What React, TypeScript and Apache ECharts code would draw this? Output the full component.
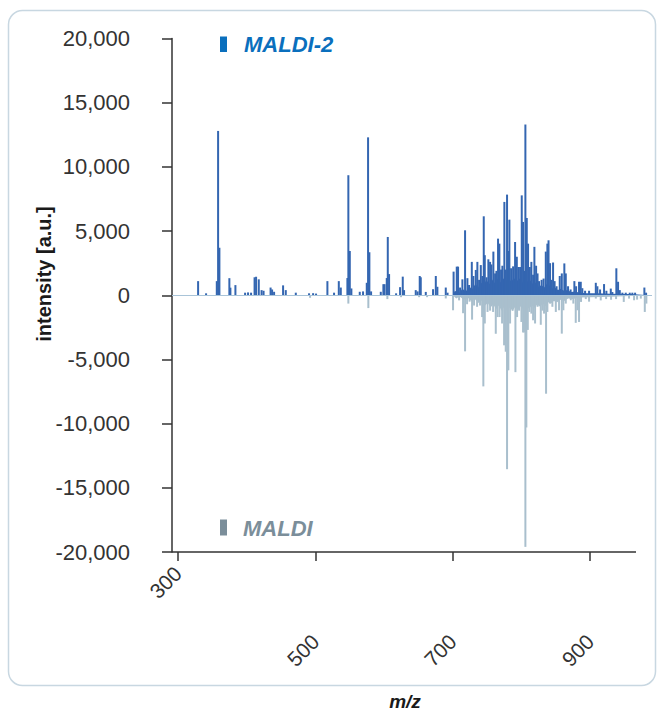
import React, { useEffect, useRef } from 'react';
import * as echarts from 'echarts';

// ---- data ----
const X_MIN = 291.3;
const X_MAX = 990;
const X_LABELS_NEAR = [300];
const X_LABELS_FAR = [500, 700, 900];
const X_TICKS = [300, 500, 700, 900];
const Y_MIN = -20000;
const Y_MAX = 20000;
const Y_STEP = 5000;

const SERIES_NAMES = ['MALDI-2', 'MALDI'];

// MALDI-2 peaks: [m/z, intensity]
const maldi2Peaks: [number, number][] = [
  [329.3, 1100], [340.9, 150], [356.5, 1100], [358.4, 12800], [360.3, 3700],
  [374.8, 1330], [376.3, 590], [383.6, 790], [397.7, 200], [402, 220], [406.4, 200],
  [411.5, 1400], [413.7, 1450], [417.6, 1240], [421.7, 400], [424.6, 350],
  [434.8, 600], [437, 450], [439.9, 270], [453, 770], [456.9, 400], [471.5, 200],
  [490.8, 150], [496.7, 160], [501, 130], [517.5, 1100], [527.2, 200],
  [534.1, 1100], [537, 600], [546.6, 1340], [548, 9350], [550.1, 3450], [552.4, 530],
  [564.6, 270], [569.4, 300], [574.8, 970], [576.7, 12300], [578.6, 3350], [581.1, 300],
  [595.2, 270], [599, 860], [600.7, 860], [603.9, 1340], [605.4, 4540], [607.3, 1650],
  [617.5, 150], [623.3, 630], [627.2, 1450], [629.1, 400], [646.1, 400], [648.8, 300],
  [651.9, 1500], [653.4, 1400], [660.7, 260], [671.3, 470], [675.3, 1500], [677.6, 660],
  [689.8, 600], [692.4, 200], [701.2, 1840], [705.8, 2230], [707.7, 2230], [710.6, 600],
  [714, 1240], [717.9, 5060], [721.3, 1330], [723.7, 800], [727.7, 2600], [730, 1500],
  [733.5, 1970], [735.8, 2600], [738.3, 1200], [740.8, 2350], [743.1, 1500],
  [745.1, 6150], [746.6, 3120], [749.2, 1400], [751.8, 2800], [754.3, 2600], [756.2, 2400],
  [759.1, 3400], [761.6, 1700], [763.5, 1900], [765.9, 4410], [767.8, 4020], [770.3, 2000],
  [772.2, 2300], [775.1, 7270], [777.2, 2000], [779.0, 7840], [780.9, 3450], [782.4, 5890],
  [784.9, 2100], [787.8, 2250], [790.7, 4150], [793.2, 3000], [795.5, 2200], [798, 2200],
  [800.4, 7780], [802.3, 5710], [804.2, 1900], [805.7, 13300], [807.7, 6020], [809.6, 4020],
  [812.1, 2200], [814.4, 2600], [816.9, 1600], [818.8, 3770], [821.3, 2300], [823.4, 1700],
  [825.6, 1100], [829.3, 1200], [832.2, 1300], [835.4, 3400], [837.7, 4020], [839.4, 4280],
  [841.6, 2500], [843.8, 1200], [846, 2550], [848.2, 1100], [851.1, 700], [855.7, 1500],
  [858.7, 1700], [862.4, 2480], [864.5, 1700], [867.8, 700], [871.5, 450], [877, 1100],
  [879.5, 700], [883.8, 1050], [886.3, 1050], [888.6, 550], [892.6, 350], [898.4, 350],
  [908.2, 970], [910.5, 700], [914.4, 450], [920.2, 870], [923.6, 350], [930, 520],
  [932.3, 250], [938.1, 2100], [940.6, 1050], [943.1, 400], [946.9, 200], [951.8, 200],
  [957.6, 200], [961.4, 200], [965.4, 200], [978.9, 600], [981.4, 200],
];

// MALDI-2 dense cluster envelope (jagged fill under the sticks): [m/z, intensity]
const maldi2Envelope: [number, number][] = [
  [700, 0], [703, 350], [709, 150], [714, 500], [719, 300], [724, 700], [728, 450],
  [733, 900], [737, 600], [741, 1000], [745, 800], [749, 1200], [753, 850], [757, 1250],
  [761, 950], [765, 1300], [769, 1000], [773, 1350], [777, 1100], [781, 1400], [785, 1050],
  [789, 1350], [793, 1100], [797, 1300], [801, 1000], [805, 1300], [809, 1050], [813, 1150],
  [817, 850], [821, 1000], [825, 650], [829, 800], [833, 600], [837, 900], [841, 750],
  [845, 550], [849, 600], [853, 400], [857, 500], [862, 350], [867, 400], [872, 250],
  [878, 300], [885, 200], [895, 150], [910, 150], [930, 120], [960, 100], [985, 0],
];

// MALDI peaks (negative): [m/z, intensity]
const maldiPeaks: [number, number][] = [
  [492.3, -200], [548, -650], [577.1, -1000], [604.8, -300], [624.7, -150], [651, -150],
  [662.6, -150], [689.8, -250], [700.4, -1170], [709.2, -400], [715, -1400], [717.9, -4370],
  [720.8, -700], [724.5, -500], [728.1, -1900], [731, -800], [735.4, -900], [739.7, -800],
  [742.7, -1700], [744.5, -7100], [746.6, -2200], [750.6, -1300], [754.3, -1200],
  [758.7, -1300], [762.6, -3000], [765.2, -1700], [768.1, -1700], [771.8, -2200],
  [774.7, -3900], [777.1, -4400], [779, -13550], [780.9, -5850], [783.4, -2200],
  [787.1, -1200], [791.2, -5990], [793.6, -1700], [796.5, -1200], [799.9, -2080],
  [802.3, -2900], [804.2, -2900], [805.7, -19600], [807.1, -10300], [809.2, -2700],
  [811.5, -1300], [814.4, -1430], [816.9, -1950], [819.8, -2200], [823.4, -900],
  [825.6, -800], [828.1, -2300], [830.4, -1200], [832.9, -1430], [835.8, -7670],
  [837.7, -1300], [841.6, -650], [845, -900], [850, -1300], [854.7, -1170], [858.7, -2990],
  [861, -1170], [864.5, -650], [871.8, -390], [875.5, -650], [879, -2150], [881.4, -1170],
  [883.8, -2080], [886.7, -520], [893.6, -300], [898.4, -500], [908.2, -260], [915.4, -400],
  [923.2, -300], [930.4, -350], [937.7, -300], [948.9, -520], [956.6, -260], [963.9, -390],
  [968.3, -340], [973.7, -260], [979.5, -1300], [981.8, -650],
];

// MALDI dense cluster envelope (jagged): [m/z, intensity]
const maldiEnvelope: [number, number][] = [
  [700, 0], [705, -250], [710, -100], [716, -350], [722, -200], [727, -450], [732, -300],
  [737, -600], [742, -400], [747, -800], [751, -600], [755, -950], [759, -700], [763, -1100],
  [767, -800], [771, -1200], [775, -900], [779, -1250], [783, -950], [787, -1200],
  [791, -900], [795, -1150], [799, -850], [803, -1150], [807, -850], [811, -1050],
  [815, -800], [819, -1000], [823, -700], [827, -900], [831, -650], [835, -850], [839, -550],
  [843, -650], [847, -450], [852, -550], [857, -350], [862, -450], [868, -250], [875, -300],
  [885, -180], [900, -150], [930, -120], [985, 0],
];

const COLOR_M2 = '#3466b1';
const COLOR_M2_TEXT = '#0a6fbd';
const COLOR_M1 = '#a9bfcd';
const COLOR_M1_TEXT = '#7b8e9a';
const AXIS_COLOR = '#333333';
const FONT = '"Liberation Sans", Arial, Helvetica, sans-serif';

export default function App() {
  const ref = useRef<HTMLDivElement>(null);

  useEffect(() => {
    document.body.style.margin = '0';
    if (!ref.current) return;
    const chart = echarts.init(ref.current, undefined, { renderer: 'svg' });

    const gridLeft = 172;
    const gridTop = 38.5;
    const gridRight = 652;
    const gridBottom = 552;

    const option: any = {
      animation: false,
      backgroundColor: '#ffffff',
      grid: {
        left: gridLeft,
        top: gridTop,
        width: gridRight - gridLeft,
        height: gridBottom - gridTop,
        containLabel: false,
      },
      xAxis: [
        {
          type: 'value',
          min: X_MIN,
          max: X_MAX,
          position: 'bottom',
          axisLine: { show: false, onZero: false },
          axisTick: {
            show: true,
            customValues: X_TICKS,
            length: 9,
            lineStyle: { color: AXIS_COLOR, width: 1.5 },
          },
          axisLabel: {
            customValues: X_LABELS_FAR,
            rotate: 45,
            margin: 86,
            fontSize: 21,
            fontFamily: FONT,
            color: AXIS_COLOR,
          },
          splitLine: { show: false },
        },
        {
          type: 'value',
          min: X_MIN,
          max: X_MAX,
          position: 'bottom',
          axisLine: { show: false, onZero: false },
          axisTick: { show: false },
          axisLabel: {
            customValues: X_LABELS_NEAR,
            rotate: 45,
            margin: 18,
            fontSize: 21,
            fontFamily: FONT,
            color: AXIS_COLOR,
          },
          splitLine: { show: false },
        },
      ],
      yAxis: {
        type: 'value',
        min: Y_MIN,
        max: Y_MAX,
        interval: Y_STEP,
        axisLine: { show: true, onZero: false, lineStyle: { color: AXIS_COLOR, width: 1.5 } },
        axisTick: { show: true, length: 10, lineStyle: { color: AXIS_COLOR, width: 1.5 } },
        axisLabel: {
          margin: 42,
          fontSize: 22,
          fontFamily: FONT,
          color: AXIS_COLOR,
          formatter: (v: number) => v.toLocaleString('en-US'),
        },
        splitLine: { show: false },
      },
      series: [
        {
          name: SERIES_NAMES[1] + ' envelope',
          type: 'line',
          data: maldiEnvelope,
          showSymbol: false,
          symbol: 'none',
          lineStyle: { width: 0 },
          areaStyle: { color: COLOR_M1, opacity: 1 },
          z: 1,
        },
        {
          name: SERIES_NAMES[0] + ' envelope',
          type: 'line',
          data: maldi2Envelope,
          showSymbol: false,
          symbol: 'none',
          lineStyle: { width: 0 },
          areaStyle: { color: COLOR_M2, opacity: 1 },
          z: 1,
        },
        {
          name: SERIES_NAMES[1],
          type: 'bar',
          data: maldiPeaks,
          barWidth: 2,
          barGap: '-100%',
          itemStyle: { color: COLOR_M1 },
          z: 2,
          markLine: {
            silent: true,
            symbol: ['none', 'none'],
            label: { show: false },
            lineStyle: { color: '#a9c4d8', type: 'solid', width: 1 },
            data: [{ yAxis: 0 }],
          },
        },
        {
          name: SERIES_NAMES[0],
          type: 'bar',
          data: maldi2Peaks,
          barWidth: 2,
          barGap: '-100%',
          itemStyle: { color: COLOR_M2 },
          z: 3,
        },
      ],
      graphic: [
        {
          type: 'rect',
          shape: { x: 8.5, y: 10.5, width: 647, height: 675, r: 14 },
          style: { fill: 'none', stroke: '#c8d7e1', lineWidth: 1.5 },
          silent: true,
          z: -10,
        },
        {
          type: 'line',
          shape: { x1: gridLeft, y1: gridBottom, x2: 636, y2: gridBottom },
          style: { stroke: AXIS_COLOR, lineWidth: 1.5 },
          silent: true,
          z: 10,
        },
        {
          type: 'rect',
          shape: { x: 220, y: 36.5, width: 7, height: 15.5 },
          style: { fill: COLOR_M2_TEXT },
        },
        {
          type: 'text',
          x: 244,
          y: 44.5,
          style: {
            text: SERIES_NAMES[0],
            fill: COLOR_M2_TEXT,
            font: `italic bold 22px ${FONT}`,
            textAlign: 'left',
            textVerticalAlign: 'middle',
          },
        },
        {
          type: 'rect',
          shape: { x: 220, y: 519.5, width: 7, height: 16 },
          style: { fill: COLOR_M1_TEXT },
        },
        {
          type: 'text',
          x: 243,
          y: 528,
          style: {
            text: SERIES_NAMES[1],
            fill: COLOR_M1_TEXT,
            font: `italic bold 22px ${FONT}`,
            textAlign: 'left',
            textVerticalAlign: 'middle',
          },
        },
        {
          type: 'text',
          x: 44,
          y: 274,
          rotation: Math.PI / 2,
          style: {
            text: 'intensity [a.u.]',
            fill: '#1a1a1a',
            font: `bold 20px ${FONT}`,
            textAlign: 'center',
            textVerticalAlign: 'middle',
          },
        },
        {
          type: 'text',
          x: 405,
          y: 701,
          style: {
            text: 'm/z',
            fill: '#1a1a1a',
            font: `italic bold 19px ${FONT}`,
            textAlign: 'center',
            textVerticalAlign: 'middle',
          },
        },
      ],
    };

    chart.setOption(option);
    return () => chart.dispose();
  }, []);

  return <div ref={ref} style={{ width: 658, height: 713 }} />;
}
